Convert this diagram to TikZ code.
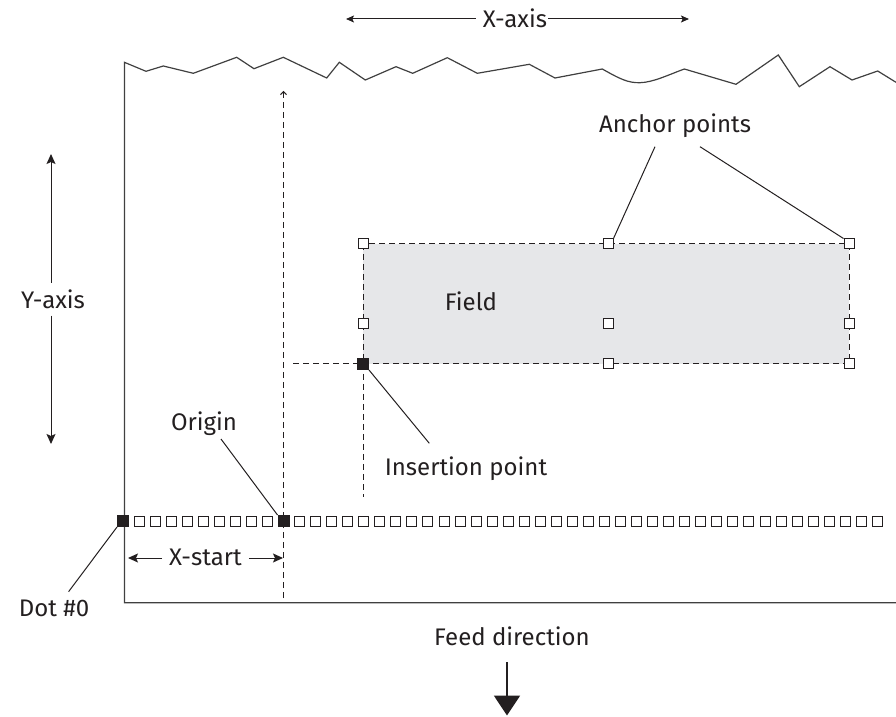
\documentclass[tikz,border=0pt]{standalone}
\usepackage{fontspec}
\setmainfont{Fira Sans}
\usetikzlibrary{arrows.meta}
\definecolor{fieldgray}{RGB}{230,231,233}
\definecolor{inkgray}{RGB}{35,31,32}

\begin{document}
\begin{tikzpicture}[x=0.5pt,y=-0.5pt,
    txt/.style={anchor=base, text=inkgray, font=\fontsize{12}{14}\selectfont},
    dotbox/.style={draw=inkgray, fill=white, line width=0.5pt, minimum size=5pt, inner sep=0pt},
    dotfull/.style={dotbox, fill=inkgray, minimum size=5.5pt},
    guide/.style={draw=inkgray, dash pattern=on 3pt off 2pt, line width=0.5pt},
    leader/.style={draw=inkgray, line width=0.5pt},
    arr/.style={draw=inkgray, line width=0.5pt, -{Stealth[length=5pt,width=4.5pt,inset=1pt]}}]

\useasboundingbox (0,0) rectangle (896,717);

\def \DotStep {16.05}
\def \DotY {521}

% bord du papier
\coordinate (P0) at (124.4,62.3);
\coordinate (P1) at (124.4,602.7);
\coordinate (P2) at (896,602.7);
\draw[color=black!75, line width=0.6pt] (P2) -- (P1) -- (P0)
    -- (146,71.3) -- (163.3,66) -- (193.3,73.3) -- (236.7,57.3) -- (254,68.7)
    -- (283.3,57.3) -- (326.7,78) -- (339.3,62.3) -- (365.3,80) -- (396,66.7)
    -- (412.7,73.3) -- (447.3,57.7) -- (477.3,73.3) -- (529.3,64.3) -- (555,78)
    -- (602.3,69) .. controls (620,79) and (628,83) .. (640,82.7)
    .. controls (653,82.4) and (668,75) .. (684.3,69)
    -- (736,84.3) -- (778.3,55) -- (799.3,86.7) -- (830,66.7) -- (852,80)
    -- (877.7,71) -- (896,82.3);

% champ
\coordinate (FA) at (363,244);
\coordinate (FB) at (849,364);
\fill[fieldgray] (FA) rectangle (FB);
\draw[guide] (FA) rectangle (FB);

% lignes de repere
\coordinate (I) at (363,364);
\coordinate (Gh) at (293,364);
\coordinate (Gv) at (363,497);
\draw[guide] (Gh) -- (I) -- (Gv);
\coordinate (Ot) at (283.5,91);
\coordinate (Ob) at (283.5,598);
\draw[guide, -{Straight Barb[length=1.5pt,width=3pt]}] (Ob) -- (Ot);

% points de l'axe X
\node[dotfull] (dot0) at (123,\DotY) {};
\foreach \i in {1,...,9,11,12,...,47}{
    \node[dotbox] (dot\i) at ({123+\DotStep*\i},\DotY) {};
}
\node[dotfull] (origin) at ({123+\DotStep*10},\DotY) {};

% points d'ancrage
\foreach \n/\x/\y in {tl/363/244, tm/608/244, tr/849/244,
                      ml/363/324, mm/608/324, mr/849/324,
                      bm/608/364, br/849/364}{
    \node[dotbox] (a\n) at (\x,\y) {};
}
\node[dotfull] (ins) at (I) {};

% textes
\node[txt] (xaxis) at (515,28) {X-axis};
\node[txt] (anchors) at (675,132.3) {Anchor points};
\node[txt] (yaxis) at (53,308.3) {Y-axis};
\node[txt] (field) at (471,310.7) {Field};
\node[txt] (orig) at (204,430.7) {Origin};
\node[txt] (insert) at (466,475) {Insertion point};
\node[txt] (xstart) at (205.5,566) {X-start};
\node[txt] (dotzero) at (54,616.7) {Dot \#0};
\node[txt] (feed) at (512,645) {Feed direction};

% fleches
\coordinate (XL) at (346,19);
\coordinate (XR) at (689,19);
\draw[arr, -{Stealth[length=4pt,width=3.5pt,inset=0.8pt]}] (xaxis.west |- XL) -- (XL);
\draw[arr, -{Stealth[length=4pt,width=3.5pt,inset=0.8pt]}] ([xshift=-3pt]xaxis.east |- XR) -- (XR);
\coordinate (YT) at (51,154);
\coordinate (YB) at (51,444);
\draw[arr] (yaxis.north -| YT) -- (YT);
\draw[arr] (yaxis.south -| YB) -- (YB);
\coordinate (XS1) at (128,558);
\coordinate (XS2) at (283,558);
\draw[arr] (xstart.west |- XS1) -- (XS1);
\draw[arr] (xstart.east |- XS2) -- (XS2);
\coordinate (F1) at (507,662);
\coordinate (F2) at (507,715.5);
\draw[draw=inkgray, line width=1pt, -{Triangle[length=10pt,width=13pt]}] (F1) -- (F2);

% traits de rappel
\coordinate (Ld0) at (68.6,591.7);
\draw[leader] (Ld0) -- (dot0.south west);
\coordinate (Lor) at (221,439);
\draw[leader] (Lor) -- (origin.north west);
\coordinate (Lins) at (429.3,443.3);
\draw[leader] (ins.south east) -- (Lins);
\coordinate (La1) at (655,146.7);
\draw[leader] (La1) -- (atm.north east);
\coordinate (La2) at (700,146.7);
\draw[leader] (La2) -- (atr.north west);

\end{tikzpicture}
\end{document}
